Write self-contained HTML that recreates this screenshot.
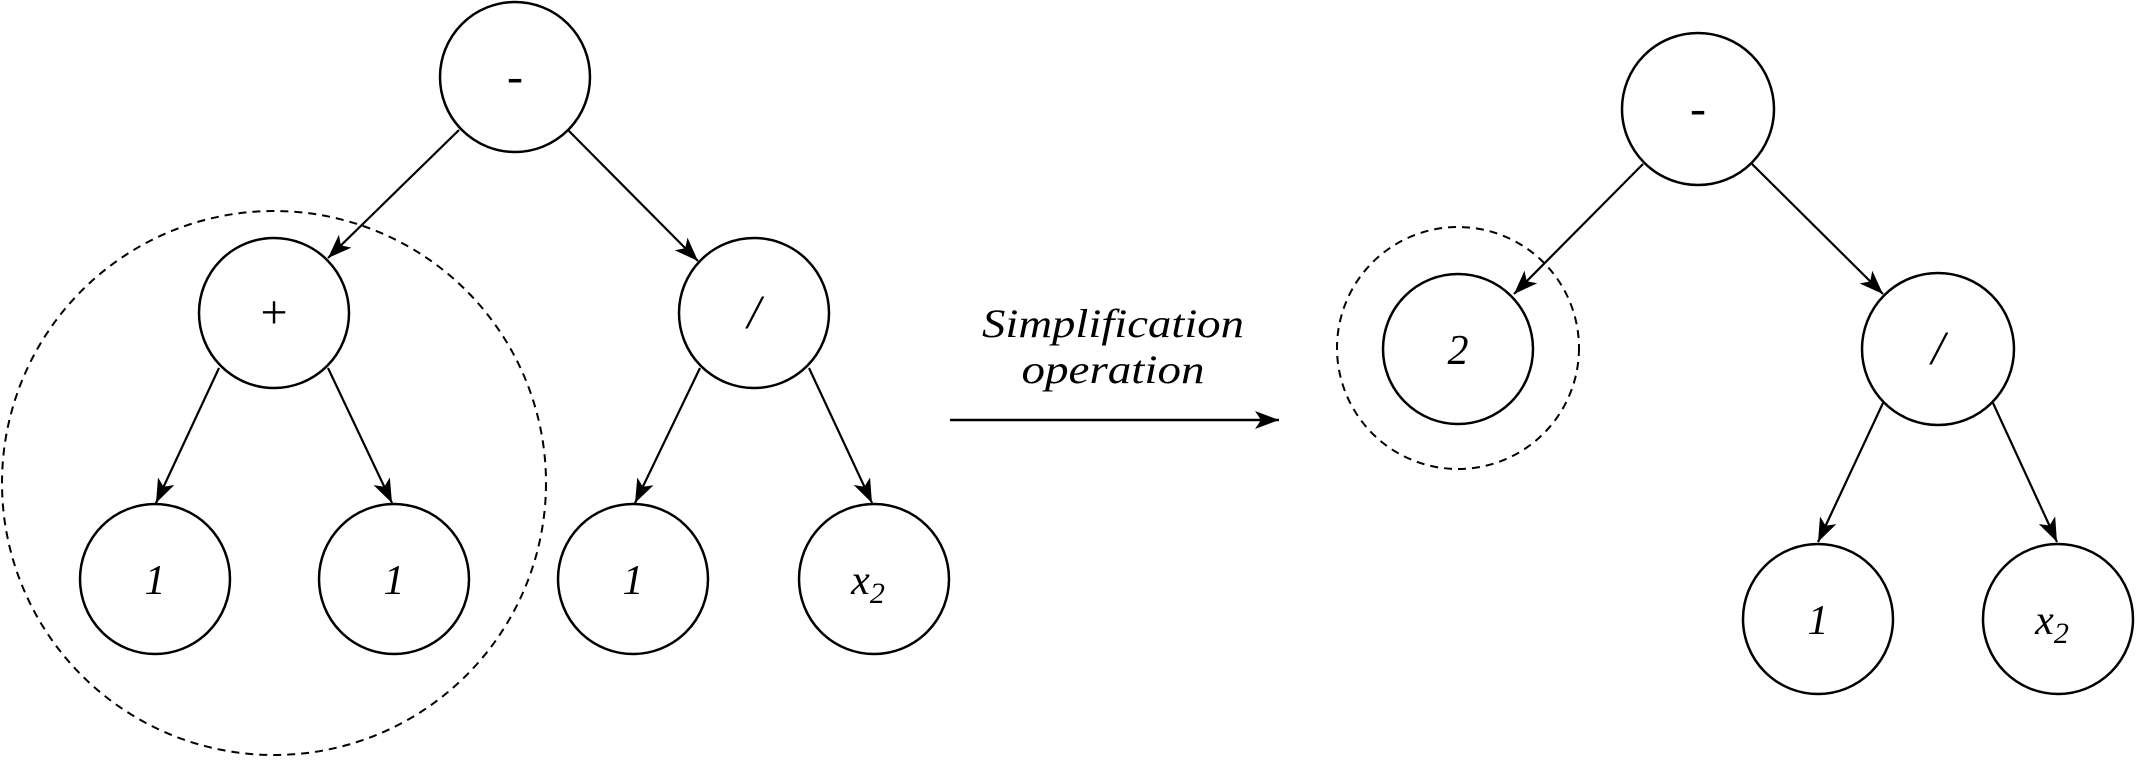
<!DOCTYPE html>
<html><head><meta charset="utf-8"><style>html,body{margin:0;padding:0;background:#fff}svg{display:block}</style></head>
<body>
<svg width="2137" height="761" viewBox="0 0 2137 761" xmlns="http://www.w3.org/2000/svg">
<defs>
<marker id="a" markerUnits="userSpaceOnUse" markerWidth="30" markerHeight="30" viewBox="0 0 30 30" refX="26" refY="15" orient="auto">
<path d="M2,6 L26,15 L2,24 L8,15 Z" fill="#000"/>
</marker>
</defs>
<g fill="#fff" stroke="#000" stroke-width="2.5">
<circle cx="515" cy="77" r="75"/>
<circle cx="274" cy="313" r="75"/>
<circle cx="754" cy="313" r="75"/>
<circle cx="155" cy="579" r="75"/>
<circle cx="394" cy="579" r="75"/>
<circle cx="633" cy="579" r="75"/>
<circle cx="874" cy="579" r="75"/>
<circle cx="1698" cy="109" r="76"/>
<circle cx="1458" cy="349" r="75"/>
<circle cx="1938" cy="349" r="76"/>
<circle cx="1818" cy="619" r="75"/>
<circle cx="2058" cy="619" r="75"/>
</g>
<g fill="none" stroke="#000" stroke-width="2" stroke-dasharray="8 6">
<circle cx="274" cy="483" r="272"/>
<circle cx="1458" cy="348" r="121"/>
</g>
<g stroke="#000" stroke-width="2.2" marker-end="url(#a)">
<line x1="459" y1="130" x2="328" y2="258"/>
<line x1="568" y1="130" x2="698" y2="261"/>
<line x1="219" y1="368" x2="156" y2="503"/>
<line x1="328" y1="368" x2="392" y2="503"/>
<line x1="700" y1="368" x2="635" y2="503"/>
<line x1="809" y1="368" x2="872" y2="503"/>
<line x1="1643" y1="164" x2="1514" y2="294"/>
<line x1="1752" y1="164" x2="1883" y2="294"/>
<line x1="1883" y1="403" x2="1818" y2="542"/>
<line x1="1993" y1="403" x2="2057" y2="542"/>
<line x1="950" y1="420" x2="1279" y2="420" stroke-width="2.5"/>
</g>
<g font-family="Liberation Serif, serif" font-size="42" text-anchor="middle" fill="#000">
<text x="515" y="92" font-size="48">-</text>
<text x="274" y="328" font-size="48">+</text>
<text x="754" y="328" font-size="48" font-style="italic">/</text>
<text x="155" y="594" font-style="italic">1</text>
<text x="394" y="594" font-style="italic">1</text>
<text x="633" y="594" font-style="italic">1</text>
<text x="868" y="594" font-style="italic">x<tspan font-size="30" dy="9">2</tspan></text>
<text x="1698" y="124" font-size="48">-</text>
<text x="1458" y="364" font-style="italic">2</text>
<text x="1938" y="364" font-size="48" font-style="italic">/</text>
<text x="1818" y="634" font-style="italic">1</text>
<text x="2052" y="634" font-style="italic">x<tspan font-size="30" dy="9">2</tspan></text>
<text x="1113" y="337" font-size="40" font-style="italic" textLength="262" lengthAdjust="spacingAndGlyphs">Simplification</text>
<text x="1113" y="383" font-size="40" font-style="italic" textLength="183" lengthAdjust="spacingAndGlyphs">operation</text>
</g>
</svg>
</body></html>
